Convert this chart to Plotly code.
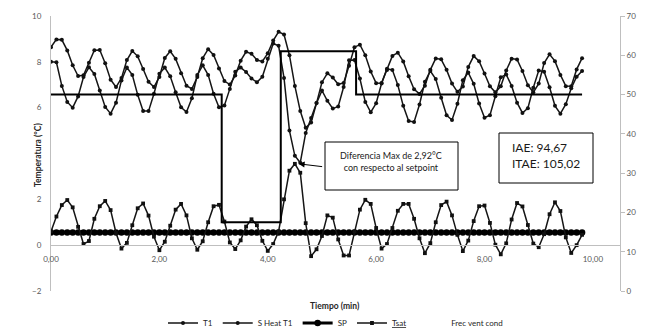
import plotly.graph_objects as go

# ---------------- data ----------------
TIME_STEP = 0.1  # min between logged samples

t1 = [8.64, 8.98, 8.96, 8.50, 7.85, 7.38, 7.41, 7.96, 8.51, 8.52,
      7.94, 7.22, 6.90, 7.29, 8.08, 8.47, 8.24, 7.69, 7.13, 6.90,
      7.34, 8.17, 8.46, 8.13, 7.50, 6.96, 6.82, 7.34, 8.16, 8.55,
      8.30, 7.71, 7.16, 7.01, 7.40, 8.05, 8.44, 8.35, 8.08, 8.02,
      8.37, 8.93, 9.31, 9.19, 8.29, 6.95, 5.85, 5.12, 5.35, 6.20,
      7.11, 7.50, 7.32, 7.02, 7.08, 7.83, 8.64, 8.75, 8.29, 7.58,
      7.07, 7.08, 7.64, 8.26, 8.40, 8.02, 7.37, 6.80, 6.60, 6.96,
      7.65, 8.15, 8.11, 7.65, 7.05, 6.69, 6.92, 7.78, 8.25, 8.03,
      7.49, 6.93, 6.67, 6.93, 7.62, 8.14, 8.10, 7.60, 6.98, 6.67,
      7.05, 7.95, 8.33, 8.03, 7.43, 6.94, 6.93, 7.67, 8.16]

s_heat_t1 = [8.00, 7.98, 6.95, 6.25, 6.00, 6.49, 7.34, 7.76, 7.47, 6.75,
             6.03, 5.74, 6.22, 7.19, 7.75, 7.43, 6.56, 5.85, 5.85, 6.61,
             7.48, 7.75, 7.37, 6.67, 6.02, 5.81, 6.41, 7.43, 7.85, 7.43,
             6.61, 6.02, 6.10, 6.82, 7.57, 7.75, 7.56, 7.27, 7.11, 7.35,
             8.13, 8.80, 8.70, 7.30, 5.00, 3.90, 3.60, 4.90, 5.55, 6.20,
             6.75, 6.30, 5.96, 6.05, 6.90, 8.07, 8.08, 7.27, 6.25, 5.80,
             6.19, 7.05, 7.70, 7.64, 6.99, 6.08, 5.42, 5.38, 6.14, 7.13,
             7.60, 7.25, 6.43, 5.67, 5.46, 6.17, 7.20, 7.53, 7.04, 6.18,
             5.56, 5.67, 6.50, 7.33, 7.45, 6.95, 6.22, 5.77, 5.98, 6.87,
             7.62, 7.57, 6.89, 6.08, 5.74, 6.15, 6.85, 7.35, 7.60]

tsat = [0.60, 1.25, 1.75, 1.97, 1.65, 0.80, 0.05, 0.18, 1.15, 1.70,
        1.93, 1.53, 0.53, -0.15, 0.10, 0.87, 1.61, 1.82, 1.29, 0.37,
        -0.22, 0.15, 0.85, 1.55, 1.80, 1.30, 0.30, -0.20, 0.17, 1.00,
        1.70, 1.76, 1.03, 0.12, -0.17, 0.21, 0.81, 1.13, 0.87, 0.19,
        -0.25, 0.05, 0.60, 2.00, 3.25, 3.55, 3.16, 0.96, -0.48, -0.18,
        0.40, 1.30, 1.20, 0.25, -0.45, -0.45, 0.60, 1.55, 1.98, 1.80,
        0.75, -0.15, 0.05, 0.75, 1.50, 1.80, 1.80, 1.15, 0.30, -0.35,
        0.09, 1.00, 1.75, 1.90, 1.30, 0.45, -0.26, 0.20, 1.05, 1.70,
        1.73, 0.97, 0.02, -0.40, 0.08, 1.12, 1.84, 1.69, 0.88, 0.07,
        -0.09, 0.48, 1.35, 1.87, 1.49, 0.34, -0.34, 0.00, 0.45]

sp_value = 0.55

frec_time = [0.0, 3.15, 4.24, 5.63, 9.80]
frec_vent_cond = [50, 17.5, 61, 50, 50]

x_ticks = [0, 2, 4, 6, 8, 10]
y_left_ticks = [-2, 0, 2, 6, 8, 10]
y_right_ticks = [0, 10, 20, 30, 40, 50, 60, 70]

max_diff_time = 4.57
max_diff_value = 3.55

time = [round(i * TIME_STEP, 2) for i in range(len(t1))]
sp = [sp_value] * len(time)

# ---------------- figure ----------------
W, H = 650, 332
L, R, T, B = 51, 30, 16, 41
PW, PH = W - L - R, H - T - B


def px(x):
    return (x - L) / PW


def py(y):
    return (H - B - y) / PH


FONT = "Lato"
LINE_C = "#151515"
fig = go.Figure()

fig.add_trace(go.Scatter(x=time, y=t1, name="T1", mode="lines+markers",
                         line=dict(color=LINE_C, width=1.5),
                         marker=dict(size=4, color="#111")))
fig.add_trace(go.Scatter(x=time, y=s_heat_t1, name="S Heat T1", mode="lines+markers",
                         line=dict(color=LINE_C, width=1.5),
                         marker=dict(size=4, color="#111")))
fig.add_trace(go.Scatter(x=time, y=sp, name="SP", mode="lines+markers",
                         line=dict(color="#000", width=3),
                         marker=dict(size=6.5, color="#000")))
fig.add_trace(go.Scatter(x=time, y=tsat, name='<span style="text-decoration:underline">Tsat</span>',
                         mode="lines+markers",
                         line=dict(color=LINE_C, width=1.5),
                         marker=dict(size=3.8, color="#111", symbol="square")))
fig.add_trace(go.Scatter(x=frec_time, y=frec_vent_cond, name="Frec vent cond",
                         mode="lines", line=dict(color="#000", width=2, shape="hv"),
                         yaxis="y2", showlegend=False))
fig.add_trace(go.Scatter(x=[None], y=[None], name="Frec vent cond", mode="lines",
                         line=dict(color="rgba(0,0,0,0)", width=1), yaxis="y2"))

fig.update_layout(
    width=W, height=H,
    margin=dict(l=L, r=R, t=T, b=B, autoexpand=False),
    paper_bgcolor="white", plot_bgcolor="white",
    separators=",.",
    font=dict(family=FONT, size=8, color="#595959"),
    xaxis=dict(range=[0, 10.5], tickvals=x_ticks, tickformat=".2f",
               showgrid=False, zeroline=False, showline=True, linecolor="#bfbfbf",
               linewidth=1, ticks="", anchor="free", position=2 / 12,
               ticklabelstandoff=6, tickfont=dict(size=8, color="#595959")),
    yaxis=dict(range=[-2, 10], tickvals=y_left_ticks, showgrid=False, zeroline=False,
               showline=True, linecolor="#bfbfbf", linewidth=1, ticks="",
               ticklabelstandoff=7, tickfont=dict(size=8, color="#595959")),
    yaxis2=dict(range=[0, 70], tickvals=y_right_ticks, overlaying="y", side="right",
                showgrid=False, zeroline=False, showline=True, linecolor="#bfbfbf",
                ticks="outside", ticklen=4, tickcolor="#bfbfbf",
                tickfont=dict(size=8, color="#595959")),
    legend=dict(orientation="h", x=0.5, xanchor="center", y=py(323), yanchor="middle",
                font=dict(size=8, color="#262626"), itemwidth=30,
                bgcolor="rgba(0,0,0,0)"),
    showlegend=True,
)

# text boxes
fig.add_shape(type="rect", xref="paper", yref="paper",
              x0=px(325), x1=px(458), y0=py(190), y1=py(142),
              line=dict(color="#000", width=1), fillcolor="white", layer="above")
fig.add_shape(type="rect", xref="paper", yref="paper",
              x0=px(499), x1=px(593), y0=py(183), y1=py(133),
              line=dict(color="#000", width=1), fillcolor="white", layer="above")

fig.add_annotation(xref="paper", yref="paper", x=px(391), y=py(161),
                   text="Diferencia Max de 2,92°C<br>con respecto al setpoint",
                   showarrow=False, align="center", xanchor="center", yanchor="middle",
                   font=dict(family=FONT, size=9, color="#1a1a1a"))
fig.add_annotation(xref="paper", yref="paper", x=px(510), y=py(156),
                   text="IAE: 94,67<br>ITAE: 105,02",
                   showarrow=False, align="left", xanchor="left", yanchor="middle",
                   font=dict(family=FONT, size=12, color="#1a1a1a"))
fig.add_annotation(x=max_diff_time, y=max_diff_value, xref="x", yref="y",
                   text="", showarrow=True, ax=25, ay=3, arrowhead=2,
                   arrowsize=1.2, arrowwidth=1, arrowcolor="#000")

# axis titles
fig.add_annotation(xref="paper", yref="paper", x=px(38), y=py(155),
                   text="<b>Temperatura (°C)</b>", textangle=-90, showarrow=False,
                   xanchor="center", yanchor="middle",
                   font=dict(family=FONT, size=8.5, color="#262626"))
fig.add_annotation(xref="paper", yref="paper", x=px(335), y=py(306),
                   text="<b>Tiempo (min)</b>", showarrow=False,
                   xanchor="center", yanchor="middle",
                   font=dict(family=FONT, size=8.5, color="#262626"))

fig.write_html("out.html")
